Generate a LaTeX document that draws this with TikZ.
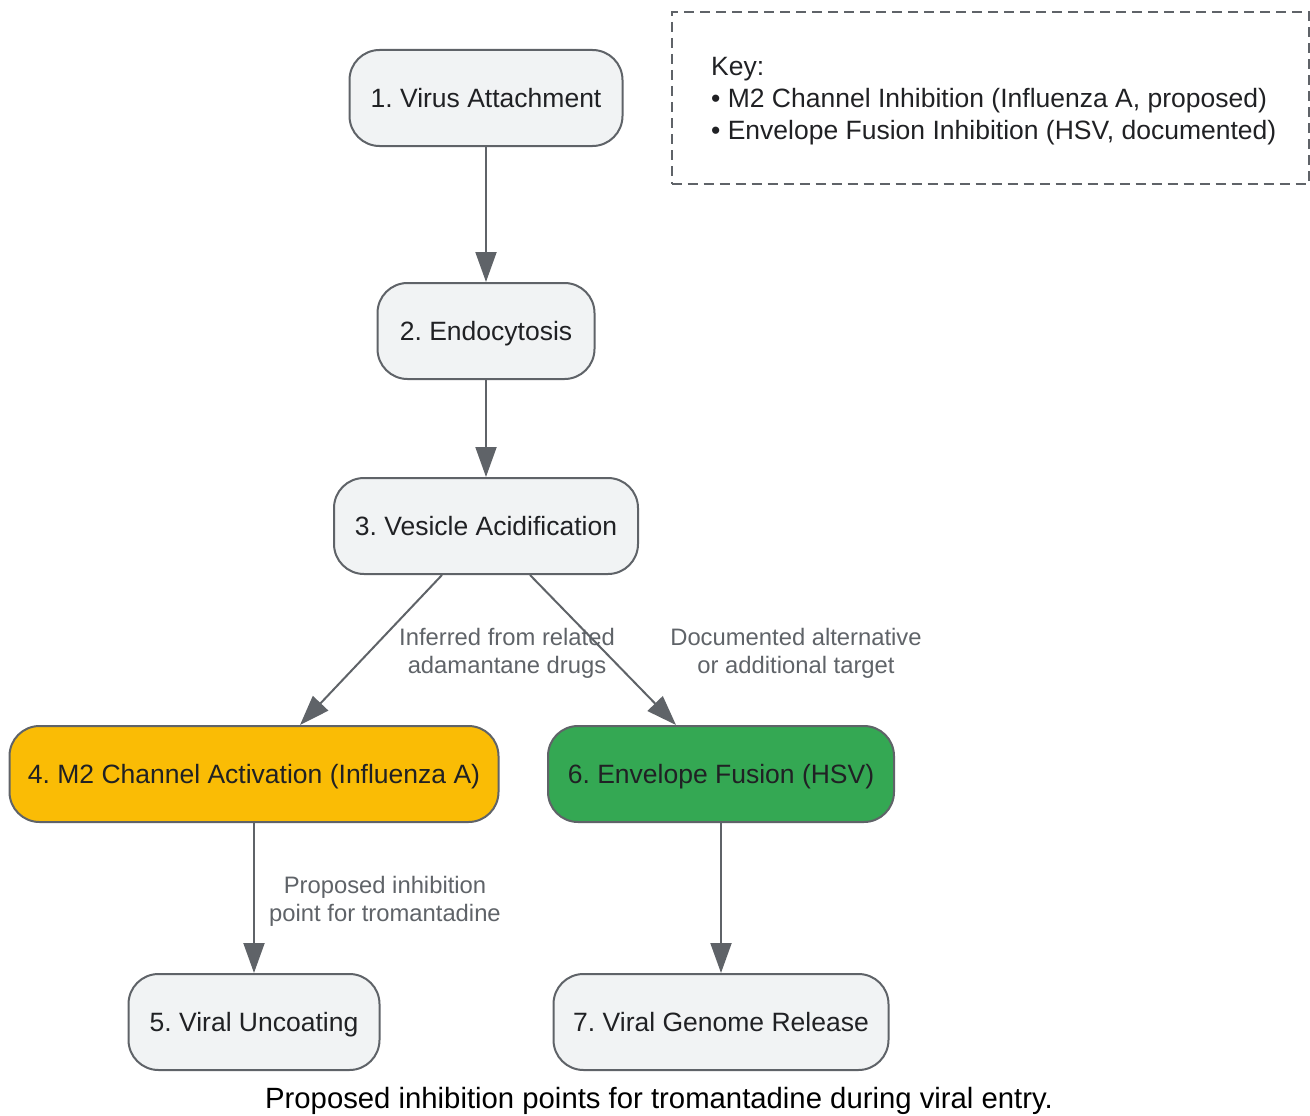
\documentclass[tikz,border=0pt]{standalone}
\usepackage{fontspec}
\setmainfont{Liberation Sans}
\usetikzlibrary{arrows.meta}
\frenchspacing
\definecolor{nodefill}{HTML}{F1F3F4}
\definecolor{edgegray}{HTML}{5F6368}
\definecolor{textdark}{HTML}{202124}
\definecolor{orangefill}{HTML}{FABC05}
\definecolor{greenfill}{HTML}{34A853}
\tikzset{
  stepbox/.style={draw=edgegray, line width=2pt, fill=nodefill, rounded corners=30pt,
    minimum height=96pt, inner sep=0pt, text=textdark, text height=21pt, text depth=2pt,
    font=\fontsize{26.5}{30}\selectfont},
  conn/.style={draw=edgegray, line width=2pt, -{Triangle[length=30pt,width=21pt]}},
  elabel/.style={text=edgegray, align=center, font=\fontsize{23.8}{28}\selectfont, inner sep=0pt},
}
\begin{document}
\begin{tikzpicture}[x=1pt,y=-1pt]
\useasboundingbox (0,0) rectangle (1310,1116);
% key
\node[draw=edgegray, line width=2pt, dashed, dash pattern=on 10pt off 6pt, minimum width=637pt, minimum height=172pt, inner sep=0pt] (key) at (990,98) {};
\node[anchor=west, align=left, text=textdark, inner sep=0pt, font=\fontsize{26.5}{32}\selectfont] (keytext) at (711,101) {Key:\\\textbullet\ M2 Channel Inhibition (Influenza A, proposed)\\\textbullet\ Envelope Fusion Inhibition (HSV, documented)};
% nodes
\node[stepbox, minimum width=273pt] (n1) at (486,98) {1. Virus Attachment};
\node[stepbox, minimum width=217pt] (n2) at (486,331) {2. Endocytosis};
\node[stepbox, minimum width=304pt] (n3) at (486,526) {3. Vesicle Acidification};
\node[stepbox, minimum width=489pt, fill=orangefill] (n4) at (254,774) {4. M2 Channel Activation (Influenza A)};
\node[stepbox, minimum width=346pt, fill=greenfill] (n6) at (721,774) {6. Envelope Fusion (HSV)};
\node[stepbox, minimum width=251pt] (n5) at (254,1022) {5. Viral Uncoating};
\node[stepbox, minimum width=335pt] (n7) at (721,1022) {7. Viral Genome Release};
% connectors
\draw[conn] (n1) -- (n2);
\draw[conn] (n2) -- (n3);
\draw[conn] (n3.south -| 442,0) -- (n4.north -| 300,0);
\draw[conn] (n3.south -| 530,0) -- (n6.north -| 676,0);
\draw[conn] (n4) -- (n5);
\draw[conn] (n6) -- (n7);
% labels
\node[elabel] (l34) at (507,653) {Inferred from related\\adamantane drugs};
\node[elabel] (l36) at (796,653) {Documented alternative\\or additional target};
\node[elabel] (l45) at (385,901) {Proposed inhibition\\point for tromantadine};
% caption
\node[text=black, inner sep=0pt, font=\fontsize{29.3}{34}\selectfont] (cap) at (659,1101) {Proposed inhibition points for tromantadine during viral entry.};
\end{tikzpicture}
\end{document}
